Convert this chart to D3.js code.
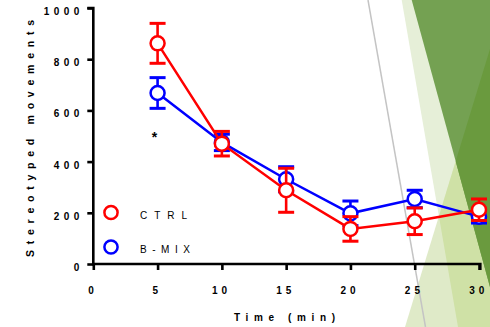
<!DOCTYPE html>
<html>
<head>
<meta charset="utf-8">
<script src="https://cdn.jsdelivr.net/npm/d3@7"></script>
<style>
  html, body { margin: 0; padding: 0; background: #ffffff; }
  svg { display: block; font-family: "Liberation Sans", Arial, sans-serif; }
</style>
</head>
<body>
<svg id="chart" width="490" height="327"></svg>
<script>
// Time points (min)
const times = [5, 10, 15, 20, 25, 30];
// Stereotyped movements, mean and SEM per group
const ctrlMean = [862, 470, 288, 137, 167, 212];
const ctrlErr  = [78, 48, 86, 48, 52, 42];
const bmixMean = [668, 475, 331, 198, 254, 185];
const bmixErr  = [60, 32, 49, 48, 34, 25];
const seriesNames = ["CTRL", "B-MIX"];
const seriesColors = ["#ff0000", "#0000ff"];
const xTicks = [0, 5, 10, 15, 20, 25, 30];
const yTicks = [0, 200, 400, 600, 800, 1000];

const svg = d3.select("#chart");

// Decorative slide background on the right edge
const bg = svg.append("g");
const defs = svg.append("defs");
const stripPts = [[401.7, 0], [490, 0], [490, 327], [458, 327]];
const triPts = [[405, 327], [490, 49], [490, 327]];
const darkPts = [[411.7, 0], [490, 0], [490, 287]];
const poly = p => "M" + p.map(d => d.join(",")).join("L") + "Z";
defs.append("clipPath").attr("id", "clipStrip").append("path").attr("d", poly(stripPts));
defs.append("clipPath").attr("id", "clipTri").append("path").attr("d", poly(triPts));

bg.append("path").attr("d", poly(stripPts)).attr("fill", "#e6efd8");
bg.append("path").attr("d", poly(triPts)).attr("fill", "#dfeac8");
bg.append("path").attr("d", poly(triPts)).attr("fill", "#cfe1a6").attr("clip-path", "url(#clipStrip)");
bg.append("path").attr("d", poly(darkPts)).attr("fill", "#74a152");
bg.append("path").attr("d", poly(darkPts)).attr("fill", "#6a9a3e").attr("clip-path", "url(#clipTri)");
bg.append("line").attr("x1", 368).attr("y1", 0).attr("x2", 425.5).attr("y2", 327)
  .attr("stroke", "#c4c4c4").attr("stroke-width", 1.5);

// Scales
const x = d3.scaleLinear().domain([0, 30]).range([93.3, 479]);
const y = d3.scaleLinear().domain([0, 1000]).range([264, 8]);

// Axes
const yAxis = svg.append("g").attr("transform", `translate(${x(0)},0)`)
  .call(d3.axisLeft(y).tickValues(yTicks).tickSize(6).tickFormat(""));
const xAxis = svg.append("g").attr("transform", `translate(0,${y(0)})`)
  .call(d3.axisBottom(x).tickValues(xTicks).tickSize(6).tickFormat(""));
[yAxis, xAxis].forEach(a => {
  a.select(".domain").attr("stroke", "#000").attr("stroke-width", 2.6);
  a.selectAll(".tick line").attr("stroke", "#000").attr("stroke-width", 2.6);
});
// Extend domain lines past the outer ticks a little
yAxis.select(".domain").attr("d", `M-6,${y(1000)}H0V${y(0) + 1.3}`);
xAxis.select(".domain").attr("d", `M${x(0) - 1.3},0H${x(30) + 1.3}V6`);

// Spaced tick labels
const spaced = s => String(s).split("").join(" ");
svg.append("g").selectAll("text").data(yTicks).join("text")
  .attr("x", 80).attr("y", d => y(d) + 7)
  .attr("text-anchor", "end").attr("font-size", 10).attr("font-weight", "bold")
  .attr("letter-spacing", 0.8)
  .text(d => spaced(d));
svg.append("g").selectAll("text").data(xTicks).join("text")
  .attr("x", d => x(d) - 2).attr("y", 293.5)
  .attr("text-anchor", "middle").attr("font-size", 10).attr("font-weight", "bold")
  .attr("letter-spacing", 0.6)
  .text(d => spaced(d));

// Axis titles
svg.append("text")
  .attr("x", 284.5).attr("y", 321)
  .attr("text-anchor", "middle").attr("font-size", 10).attr("font-weight", "bold")
  .attr("textLength", 101).attr("lengthAdjust", "spacing")
  .text("Time (min)");
svg.append("text")
  .attr("transform", `translate(34,138.5) rotate(-90)`)
  .attr("text-anchor", "middle").attr("font-size", 10.5).attr("font-weight", "bold")
  .attr("textLength", 237).attr("lengthAdjust", "spacing")
  .text("Stereotyped movements");

// Data series: B-MIX underneath, CTRL on top
const series = [
  { name: seriesNames[1], color: seriesColors[1], mean: bmixMean, err: bmixErr },
  { name: seriesNames[0], color: seriesColors[0], mean: ctrlMean, err: ctrlErr }
];
const line = d3.line().x(d => x(d.t)).y(d => y(d.v));
const capW = 8;
series.forEach(s => {
  const pts = times.map((t, i) => ({ t, v: s.mean[i], e: s.err[i] }));
  const g = svg.append("g");
  g.append("path").datum(pts).attr("d", line)
    .attr("fill", "none").attr("stroke", s.color).attr("stroke-width", 2.5);
  const eb = g.append("g").selectAll("g").data(pts).join("g")
    .attr("stroke", s.color).attr("stroke-width", 2.6);
  eb.append("line").attr("x1", d => x(d.t)).attr("x2", d => x(d.t))
    .attr("y1", d => y(d.v + d.e)).attr("y2", d => y(d.v - d.e));
  eb.append("line").attr("x1", d => x(d.t) - capW).attr("x2", d => x(d.t) + capW)
    .attr("y1", d => y(d.v + d.e)).attr("y2", d => y(d.v + d.e)).attr("stroke-width", 3);
  eb.append("line").attr("x1", d => x(d.t) - capW).attr("x2", d => x(d.t) + capW)
    .attr("y1", d => y(d.v - d.e)).attr("y2", d => y(d.v - d.e)).attr("stroke-width", 3);
  g.append("g").selectAll("circle").data(pts).join("circle")
    .attr("cx", d => x(d.t)).attr("cy", d => y(d.v)).attr("r", 7)
    .attr("fill", "#fff").attr("stroke", s.color).attr("stroke-width", 2.5);
});

// Significance mark
svg.append("text").attr("x", x(5) - 3).attr("y", 141.5)
  .attr("text-anchor", "middle").attr("font-size", 14).attr("font-weight", "bold")
  .text("*");

// Legend
const legend = svg.append("g");
seriesNames.forEach((n, i) => {
  const ly = 212.5 + i * 34.5;
  legend.append("circle").attr("cx", 111).attr("cy", ly).attr("r", 6.6)
    .attr("fill", "#fff").attr("stroke", seriesColors[i]).attr("stroke-width", 2.5);
  legend.append("text").attr("x", 140).attr("y", ly + 6)
    .attr("font-size", 10)
    .attr("textLength", i === 0 ? 47 : 50).attr("lengthAdjust", "spacing")
    .text(spaced(n).replace("-", " - "));
});
</script>
</body>
</html>
